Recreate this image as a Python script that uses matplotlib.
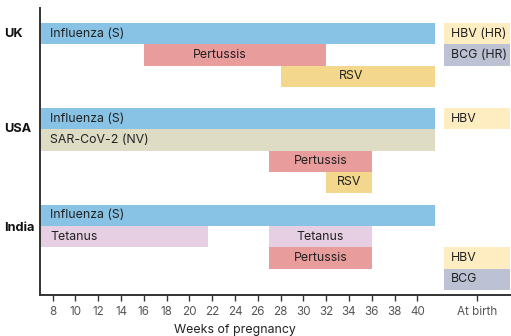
import matplotlib
matplotlib.use("Agg")
import matplotlib.pyplot as plt

plt.rcParams["font.family"] = ["Inter", "DejaVu Sans"]

# rows per country (top of each bar, in row units)
COUNTRIES   = ["UK", "USA", "India"]
LABEL_ROWS  = [0.5, 5.0, 9.65]

# pregnancy-window bars: (label, row, start week, end week, colour key)
BAR_LABELS = ["Influenza (S)", "Pertussis", "RSV",
              "Influenza (S)", "SAR-CoV-2 (NV)", "Pertussis", "RSV",
              "Influenza (S)", "Tetanus", "Tetanus", "Pertussis"]
BAR_ROWS   = [0, 1, 2,
              4, 5, 6, 7,
              8.55, 9.55, 9.55, 10.55]
BAR_START  = [6.9, 16, 28,
              6.9, 6.9, 27, 32,
              6.9, 6.9, 27, 27]
BAR_END    = [41.55, 32, 41.55,
              41.55, 41.55, 36, 36,
              41.55, 21.6, 36, 36]
BAR_KIND   = ["flu", "pert", "rsv",
              "flu", "cov", "pert", "rsv",
              "flu", "tet", "tet", "pert"]

# at-birth vaccines
BIRTH_LABELS = ["HBV (HR)", "BCG (HR)", "HBV", "HBV", "BCG"]
BIRTH_ROWS   = [0, 1, 4, 10.55, 11.55]
BIRTH_KIND   = ["hbv", "bcg", "hbv", "hbv", "bcg"]

WEEK_TICKS = list(range(8, 41, 2))
AT_BIRTH   = 45.2

COLORS = {
    "flu":  "#88c3e6",
    "pert": "#e99c9c",
    "rsv":  "#f2d78c",
    "cov":  "#dedcc4",
    "tet":  "#e6cee3",
    "hbv":  "#fdedc0",
    "bcg":  "#bcc2d4",
}

XMIN, XMAX = 6.9, 48.2
TEXT = "#222222"
FS = 8.9

fig = plt.figure(figsize=(5.11, 3.36), dpi=100)
ax = fig.add_axes([40 / 511, 1 - 295.3 / 336, 1 - 40 / 511, (295.3 - 8) / 336])

for lab, r, s, e, k in zip(BAR_LABELS, BAR_ROWS, BAR_START, BAR_END, BAR_KIND):
    ax.barh(r, e - s, left=s, height=1, align="edge", color=COLORS[k], linewidth=0)
    if s <= XMIN:
        ax.text(s + 0.9, r + 0.5, lab, ha="left", va="center", fontsize=FS, color=TEXT)
    else:
        cx = (s + e) / 2
        if lab == "Pertussis" and r == 1:
            cx -= 1.3
        if lab == "RSV" and r == 2:
            cx -= 0.6
        ax.text(cx, r + 0.5, lab, ha="center", va="center", fontsize=FS, color=TEXT)

bw = 2 * (AT_BIRTH - 42.3)
for lab, r, k in zip(BIRTH_LABELS, BIRTH_ROWS, BIRTH_KIND):
    ax.barh(r, bw, left=AT_BIRTH - bw / 2, height=1, align="edge",
            color=COLORS[k], linewidth=0)
    ax.text(AT_BIRTH - bw / 2 + 0.65, r + 0.5, lab, ha="left", va="center",
            fontsize=FS, color=TEXT)

for c, r in zip(COUNTRIES, LABEL_ROWS):
    ax.text(-36 / 471, r, c, transform=ax.get_yaxis_transform(),
            ha="left", va="center", fontsize=9.2, fontweight="bold", color="#111111")

ax.set_xlim(XMIN, XMAX)
ax.set_ylim(12.81, -0.706)

ax.set_xticks(WEEK_TICKS + [AT_BIRTH])
ax.set_xticklabels([str(t) for t in WEEK_TICKS] + ["At birth"])
ax.tick_params(axis="x", length=4, width=1, color="#333333", labelcolor="#555555",
               labelsize=8.4, pad=4)
ax.set_yticks([])

for side in ["top", "right"]:
    ax.spines[side].set_visible(False)
for side in ["left", "bottom"]:
    ax.spines[side].set_linewidth(1.4)
    ax.spines[side].set_color("#333333")

ax.text(24, -0.1, "Weeks of pregnancy", transform=ax.get_xaxis_transform(),
        ha="center", va="top", fontsize=FS, color=TEXT)

fig.savefig("out.png", dpi=100)
